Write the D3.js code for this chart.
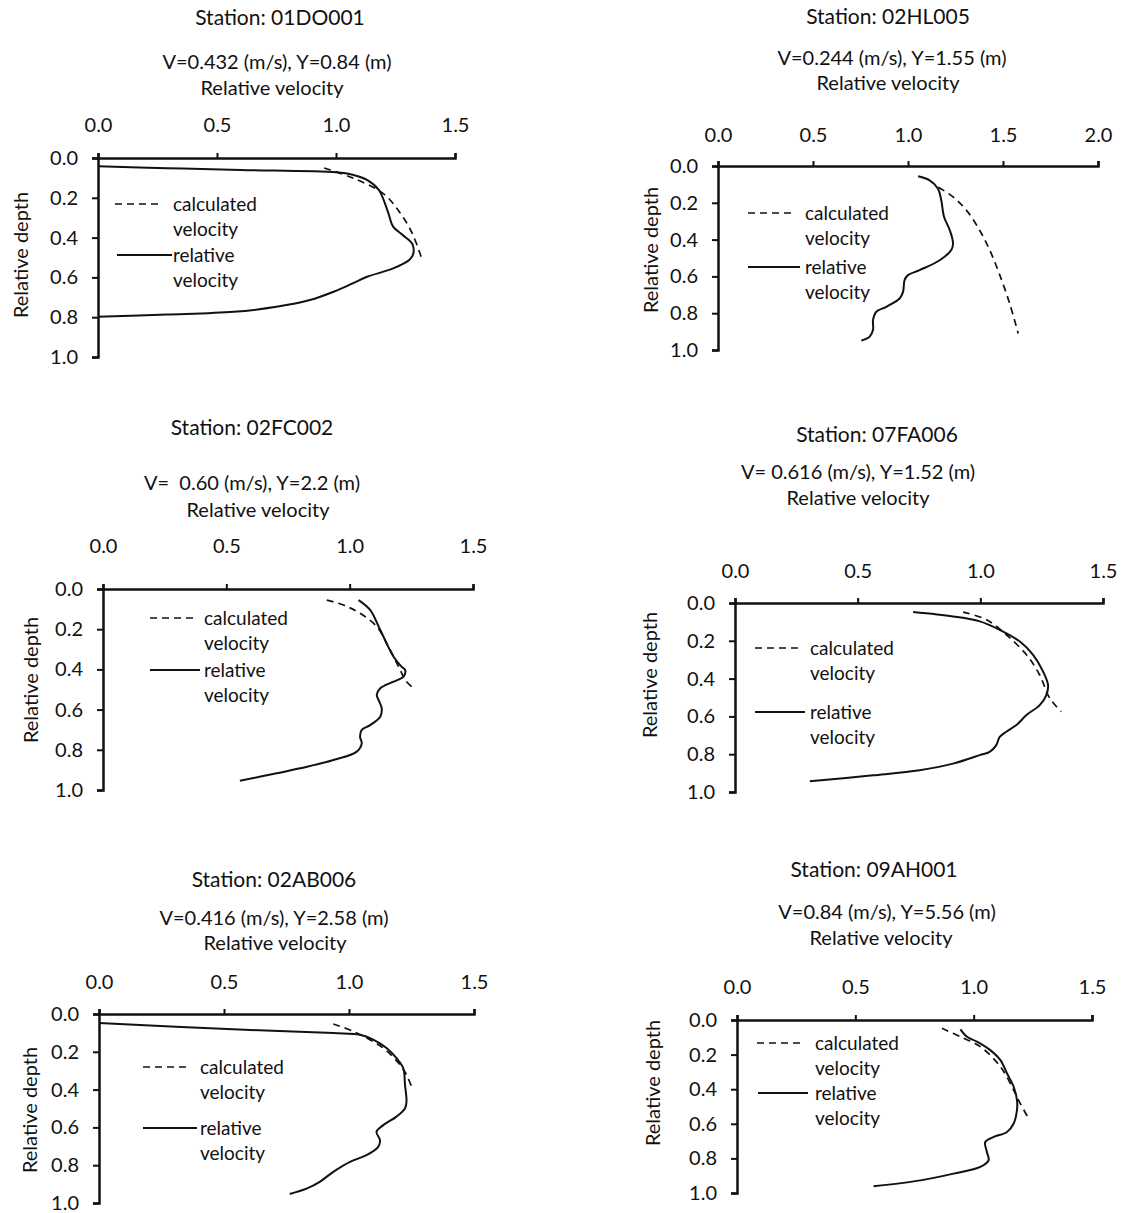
<!DOCTYPE html>
<html>
<head>
<meta charset="utf-8">
<script src="https://cdn.jsdelivr.net/npm/d3@7"></script>
<style>
  html, body { margin: 0; padding: 0; background: #fff; }
  svg { display: block; }
  text { font-family: Lato, "Liberation Sans", sans-serif; fill: #111; }
</style>
</head>
<body>
<svg id="chart" width="1121" height="1213"></svg>
<script>
// ---------------- DATA ----------------
const stations = ["01DO001", "02HL005", "02FC002", "07FA006", "02AB006", "09AH001"];
const conditions = [
  "V=0.432 (m/s), Y=0.84 (m)",
  "V=0.244 (m/s), Y=1.55 (m)",
  "V=  0.60 (m/s), Y=2.2 (m)",
  "V= 0.616 (m/s), Y=1.52 (m)",
  "V=0.416 (m/s), Y=2.58 (m)",
  "V=0.84 (m/s), Y=5.56 (m)"
];
const xMaxValues = [1.5, 2.0, 1.5, 1.5, 1.5, 1.5];
const xTicks15 = [0, 0.5, 1.0, 1.5];
const xTicks20 = [0, 0.5, 1.0, 1.5, 2.0];
const yTicks = [0, 0.2, 0.4, 0.6, 0.8, 1.0];
const xAxisTitle = "Relative velocity";
const yAxisTitle = "Relative depth";
const legendCalc = ["calculated", "velocity"];
const legendRel = ["relative", "velocity"];

// [relative velocity, relative depth]
const do001Relative = [[0,0.042],[0.29,0.051],[0.6,0.06],[1.0,0.072],[1.07,0.084],[1.13,0.11],[1.18,0.16],[1.2,0.21],[1.22,0.277],[1.24,0.345],[1.28,0.387],[1.32,0.43],[1.325,0.48],[1.31,0.51],[1.24,0.555],[1.13,0.597],[1.07,0.63],[0.99,0.672],[0.89,0.714],[0.75,0.748],[0.57,0.773],[0.29,0.787],[0,0.798]];
const do001Calculated = [[0.95,0.05],[1.07,0.10],[1.2,0.18],[1.27,0.277],[1.32,0.378],[1.36,0.504]];

const hl005Relative = [[1.053,0.056],[1.114,0.078],[1.158,0.123],[1.175,0.186],[1.19,0.277],[1.22,0.349],[1.237,0.42],[1.228,0.457],[1.167,0.512],[1.061,0.566],[1.0,0.593],[0.982,0.62],[0.974,0.684],[0.956,0.72],[0.886,0.765],[0.833,0.792],[0.816,0.837],[0.816,0.89],[0.798,0.928],[0.754,0.949]];
const hl005Calculated = [[1.16,0.115],[1.237,0.168],[1.307,0.24],[1.377,0.349],[1.43,0.457],[1.48,0.584],[1.535,0.747],[1.58,0.91]];

const fc002Relative = [[1.036,0.055],[1.083,0.104],[1.124,0.204],[1.178,0.337],[1.21,0.386],[1.225,0.403],[1.218,0.436],[1.178,0.461],[1.124,0.494],[1.11,0.527],[1.117,0.552],[1.13,0.594],[1.124,0.635],[1.083,0.677],[1.049,0.701],[1.042,0.735],[1.049,0.768],[1.029,0.809],[0.934,0.851],[0.799,0.892],[0.704,0.917],[0.555,0.954]];
const fc002Calculated = [[0.907,0.055],[0.975,0.08],[1.042,0.121],[1.11,0.187],[1.157,0.287],[1.205,0.403],[1.225,0.453],[1.259,0.494]];

const fa006Relative = [[0.726,0.048],[0.889,0.071],[0.998,0.097],[1.079,0.142],[1.161,0.204],[1.215,0.274],[1.256,0.363],[1.276,0.434],[1.269,0.487],[1.242,0.54],[1.188,0.593],[1.147,0.646],[1.106,0.681],[1.079,0.708],[1.065,0.752],[1.038,0.788],[0.998,0.805],[0.889,0.85],[0.753,0.885],[0.563,0.912],[0.305,0.943]];
const fa006Calculated = [[0.93,0.048],[1.025,0.088],[1.106,0.168],[1.188,0.274],[1.242,0.381],[1.283,0.504],[1.33,0.575]];

const ab006Relative = [[0,0.048],[0.536,0.081],[0.937,0.101],[1.044,0.11],[1.097,0.136],[1.15,0.18],[1.19,0.234],[1.217,0.287],[1.224,0.375],[1.23,0.464],[1.224,0.5],[1.19,0.543],[1.137,0.588],[1.11,0.623],[1.124,0.667],[1.117,0.703],[1.07,0.747],[1.004,0.782],[0.937,0.835],[0.883,0.888],[0.83,0.924],[0.763,0.952]];
const ab006Calculated = [[0.937,0.053],[1.017,0.092],[1.137,0.18],[1.204,0.269],[1.23,0.322],[1.25,0.384]];

const ah001Relative = [[0.944,0.054],[0.972,0.097],[1.014,0.125],[1.07,0.174],[1.113,0.232],[1.141,0.309],[1.169,0.386],[1.183,0.463],[1.183,0.521],[1.169,0.598],[1.141,0.647],[1.085,0.676],[1.049,0.705],[1.056,0.763],[1.063,0.811],[1.028,0.849],[0.915,0.888],[0.775,0.927],[0.577,0.961]];
const ah001Calculated = [[0.866,0.048],[0.944,0.097],[1.028,0.154],[1.113,0.27],[1.169,0.405],[1.197,0.483],[1.232,0.569]];

const relativeSeries = [do001Relative, hl005Relative, fc002Relative, fa006Relative, ab006Relative, ah001Relative];
const calculatedSeries = [do001Calculated, hl005Calculated, fc002Calculated, fa006Calculated, ab006Calculated, ah001Calculated];

// ---------------- LAYOUT ----------------
const layouts = [
  {x0:98, x1:455, y0:158, y1:357, st:[280,18], cond:[277,62], xt:[272,88], tickY:125, yl:[21,255],
   dash:[115,163,204], solid:[117,172,255], tx:173},
  {x0:718, x1:1098, y0:166, y1:350, st:[888,17], cond:[892,58], xt:[888,83], tickY:135, yl:[651,250],
   dash:[748,795,213], solid:[748,800,267], tx:805},
  {x0:103, x1:473, y0:589, y1:790, st:[252,428], cond:[252,483], xt:[258,510], tickY:546, yl:[31,680],
   dash:[150,197,618], solid:[150,200,670], tx:204},
  {x0:735, x1:1103, y0:603, y1:792, st:[877,435], cond:[858,472], xt:[858,498], tickY:571, yl:[650,675],
   dash:[755,802,648], solid:[755,805,712], tx:810},
  {x0:99, x1:474, y0:1014, y1:1203, st:[274,880], cond:[274,918], xt:[275,943], tickY:982, yl:[30,1110],
   dash:[143,190,1067], solid:[143,197,1128], tx:200},
  {x0:737, x1:1092, y0:1020, y1:1193, st:[874,870], cond:[887,912], xt:[881,938], tickY:987, yl:[653,1083],
   dash:[757,803,1043], solid:[758,808,1093], tx:815}
];

const FONT = 20;
const LEG_FONT = 19;
const DASH = "7,5";
const svg = d3.select("#chart");

layouts.forEach((L, i) => {
  const g = svg.append("g");
  const xMax = xMaxValues[i];
  const x = d3.scaleLinear().domain([0, xMax]).range([L.x0, L.x1]);
  const y = d3.scaleLinear().domain([0, 1]).range([L.y0, L.y1]);

  // titles
  g.append("text").attr("x", L.st[0]).attr("y", L.st[1]).attr("dy", "0.35em")
    .attr("text-anchor", "middle").attr("font-size", 21).text("Station: " + stations[i]);
  g.append("text").attr("x", L.cond[0]).attr("y", L.cond[1]).attr("dy", "0.35em")
    .attr("text-anchor", "middle").attr("font-size", FONT).style("white-space", "pre")
    .attr("xml:space", "preserve").text(conditions[i]);
  g.append("text").attr("x", L.xt[0]).attr("y", L.xt[1]).attr("dy", "0.35em")
    .attr("text-anchor", "middle").attr("font-size", FONT).text(xAxisTitle);

  // y axis title
  g.append("text").attr("transform", `translate(${L.yl[0]},${L.yl[1]}) rotate(-90)`)
    .attr("dy", "0.35em").attr("text-anchor", "middle").attr("font-size", FONT).text(yAxisTitle);

  // x axis (top)
  const tickSize = 5;
  const pad = L.y0 - L.tickY - tickSize - 7;
  const xAxis = d3.axisTop(x).tickValues(xMax > 1.5 ? xTicks20 : xTicks15)
    .tickFormat(d3.format(".1f")).tickSize(tickSize).tickPadding(pad);
  const gx = g.append("g").attr("transform", `translate(0,${L.y0})`).call(xAxis);
  gx.selectAll("text").attr("font-size", FONT).attr("font-family", "Lato, sans-serif").attr("fill", "#111");

  // y axis (left)
  const yAxis = d3.axisLeft(y).tickValues(yTicks).tickFormat(d3.format(".1f")).tickSize(6).tickPadding(14);
  const gy = g.append("g").attr("transform", `translate(${L.x0},0)`).call(yAxis);
  gy.selectAll("text").attr("font-size", FONT).attr("font-family", "Lato, sans-serif").attr("fill", "#111");

  [gx, gy].forEach(a => {
    a.select(".domain").attr("stroke", "#111").attr("stroke-width", 2.5);
    a.selectAll(".tick line").attr("stroke", "#111").attr("stroke-width", 2);
  });

  const line = d3.line().x(d => x(d[0])).y(d => y(d[1])).curve(d3.curveCatmullRom.alpha(0.5));

  g.append("path").datum(calculatedSeries[i]).attr("d", line)
    .attr("fill", "none").attr("stroke", "#111").attr("stroke-width", 1.7).attr("stroke-dasharray", DASH);
  g.append("path").datum(relativeSeries[i]).attr("d", line)
    .attr("fill", "none").attr("stroke", "#111").attr("stroke-width", 2);

  // legend
  g.append("line").attr("x1", L.dash[0]).attr("x2", L.dash[1]).attr("y1", L.dash[2]).attr("y2", L.dash[2])
    .attr("stroke", "#111").attr("stroke-width", 1.7).attr("stroke-dasharray", DASH);
  g.append("line").attr("x1", L.solid[0]).attr("x2", L.solid[1]).attr("y1", L.solid[2]).attr("y2", L.solid[2])
    .attr("stroke", "#111").attr("stroke-width", 2);
  legendCalc.forEach((t, k) => {
    g.append("text").attr("x", L.tx).attr("y", L.dash[2] + k * 25).attr("dy", "0.35em")
      .attr("font-size", LEG_FONT).text(t);
  });
  legendRel.forEach((t, k) => {
    g.append("text").attr("x", L.tx).attr("y", L.solid[2] + k * 25).attr("dy", "0.35em")
      .attr("font-size", LEG_FONT).text(t);
  });
});
</script>
</body>
</html>
